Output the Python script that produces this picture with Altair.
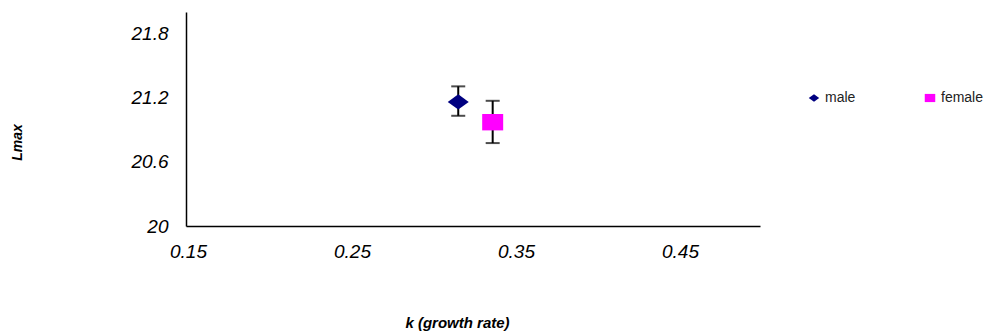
import altair as alt
import pandas as pd

groups = ["male", "female"]
k_vals = [0.316, 0.337]
lmax_vals = [21.16, 20.97]
lmax_low = [21.03, 20.775]
lmax_high = [21.305, 21.17]
colors = ["#000080", "#FF00FF"]
shapes = ["M-1,0L0,-0.72L1,0L0,0.72Z", "M-1,-0.78L1,-0.78L1,0.78L-1,0.78Z"]

df = pd.DataFrame({"group": groups, "k": k_vals, "lmax": lmax_vals,
                   "lo": lmax_low, "hi": lmax_high})

FONT = "Liberation Sans"

xs = alt.Scale(domain=[0.15, 0.5], nice=False, zero=False)
ys = alt.Scale(domain=[20, 22], nice=False, zero=False)

x_axis = alt.Axis(values=[0.15, 0.25, 0.35, 0.45], format=".2f", grid=False,
                  ticks=False, domainColor="black", domainWidth=1.5,
                  labelFont=FONT, labelFontSize=19, labelFontStyle="italic",
                  labelColor="black", labelPadding=16, labelFlush=False, labelOffset=2,
                  title="k (growth rate)", titleFont=FONT, titleFontSize=15,
                  titleFontStyle="italic", titleFontWeight="bold", titleColor="black",
                  titleX=271, titleY=96, titleBaseline="middle", titleAlign="center")
y_axis = alt.Axis(values=[20, 20.6, 21.2, 21.8], format=".1~f", grid=False, ticks=False,
                  domainColor="black", domainWidth=1.5,
                  labelFont=FONT, labelFontSize=19, labelFontStyle="italic",
                  labelColor="black", labelPadding=18, labelFlush=False,
                  title="Lmax", titleFont=FONT, titleFontSize=14,
                  titleFontStyle="italic", titleFontWeight="bold", titleColor="black",
                  titleX=-169, titleY=130, titleBaseline="middle", titleAlign="center",
                  titleAngle=270)

base = alt.Chart(df)

bars = base.mark_rule(color="black", strokeWidth=2).encode(
    x=alt.X("k:Q", scale=xs, axis=x_axis),
    y=alt.Y("lo:Q", scale=ys, axis=y_axis),
    y2="hi:Q",
)
cap_lo = base.mark_tick(color="black", thickness=2, size=14, orient="horizontal").encode(
    x=alt.X("k:Q", scale=xs), y=alt.Y("lo:Q", scale=ys))
cap_hi = base.mark_tick(color="black", thickness=2, size=14, orient="horizontal").encode(
    x=alt.X("k:Q", scale=xs), y=alt.Y("hi:Q", scale=ys))

pts = base.mark_point(filled=True, opacity=1, size=441).encode(
    x=alt.X("k:Q", scale=xs),
    y=alt.Y("lmax:Q", scale=ys),
    color=alt.Color("group:N", scale=alt.Scale(domain=groups, range=colors),
                    legend=alt.Legend(title=None, orient="none", legendX=621, legendY=79,
                                      direction="horizontal", columns=2,
                                      columnPadding=67, symbolSize=110,
                                      symbolOpacity=1, labelFont=FONT,
                                      labelFontSize=14, labelColor="#222222",
                                      labelOffset=4, padding=0)),
    shape=alt.Shape("group:N", scale=alt.Scale(domain=groups, range=shapes), legend=None),
)

chart = alt.layer(bars, cap_lo, cap_hi, pts).properties(
    width=574, height=214,
    padding={"left": 178, "top": 4, "right": 228, "bottom": 110},
    autosize=alt.AutoSizeParams(type="none"),
    background="white",
).configure_view(strokeWidth=0, stroke="transparent")

chart.save("out.html", embed_options={"renderer": "svg", "actions": False})
